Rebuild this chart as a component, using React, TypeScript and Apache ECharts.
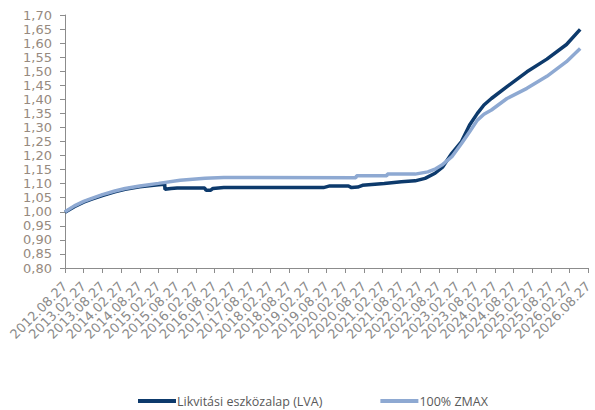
import React, { useEffect, useRef } from "react";
import * as echarts from "echarts";

// x positions are months since 2012.08.27
const xTickLabels = [
  "2012.08.27", "2013.02.27", "2013.08.27", "2014.02.27", "2014.08.27",
  "2015.02.27", "2015.08.27", "2016.02.27", "2016.08.27", "2017.02.27",
  "2017.08.27", "2018.02.27", "2018.08.27", "2019.02.27", "2019.08.27",
  "2020.02.27", "2020.08.27", "2021.02.27", "2021.08.27", "2022.02.27",
  "2022.08.27", "2023.02.27", "2023.08.27", "2024.02.27", "2024.08.27",
  "2025.02.27", "2025.08.27", "2026.02.27", "2026.08.27",
];

const lvaMonths = [
  0, 3, 6, 8.6, 12, 16, 19.3, 24, 30, 32, 32.1, 34, 36, 44.8, 45.3, 46.8, 47.5, 51,
  83, 85, 91, 92, 94, 95.5, 102.5, 108, 112.4, 115.6, 118.8, 121.3, 124.2, 127.3,
  129.9, 132.4, 134.5, 136.9, 141.9, 148.3, 154.7, 161, 165.4,
];
const lvaValues = [
  0.998, 1.018, 1.034, 1.045, 1.058, 1.071, 1.08, 1.089, 1.096, 1.098, 1.08, 1.083, 1.085,
  1.085, 1.077, 1.077, 1.083, 1.086, 1.086, 1.092, 1.092, 1.086, 1.088, 1.094, 1.101,
  1.107, 1.11, 1.119, 1.137, 1.16, 1.208, 1.25, 1.309, 1.35, 1.38, 1.403, 1.445, 1.498,
  1.543, 1.595, 1.649,
];

const zmaxMonths = [
  0, 3, 6, 8.6, 12, 16, 19.3, 24, 30, 37, 45, 51, 93.4, 93.6, 103.3, 103.5, 112.4,
  116.5, 119, 121, 124.2, 127.3, 129.9, 132.4, 134.5, 136.9, 141.9, 148.3, 154.7, 161,
  165.4,
];
const zmaxValues = [
  1.0, 1.021, 1.037, 1.048, 1.061, 1.074, 1.083, 1.092, 1.101, 1.112, 1.119, 1.122,
  1.121, 1.128, 1.128, 1.134, 1.134, 1.142, 1.153, 1.166, 1.196, 1.243, 1.285, 1.326,
  1.347, 1.362, 1.403, 1.439, 1.482, 1.534, 1.581,
];

const seriesNames = ["Likvitási eszközalap (LVA)", "100% ZMAX"];

export default function App() {
  const ref = useRef<HTMLDivElement>(null);
  useEffect(() => {
    if (!ref.current) return;
    const chart = echarts.init(ref.current, null, { renderer: "svg" });
    const axisFont = "'DejaVu Sans', sans-serif";
    const legendFont = "'Open Sans', 'Noto Sans', sans-serif";
    chart.setOption({
      animation: false,
      backgroundColor: "#ffffff",
      grid: { left: 65, top: 15, right: 0, bottom: 142, containLabel: false },
      legend: {
        data: seriesNames,
        left: 138,
        top: 394,
        padding: 0,
        itemWidth: 38,
        itemHeight: 4,
        itemGap: 58,
        icon: "rect",
        textStyle: {
          color: "#595959",
          fontSize: 12.5,
          lineHeight: 14,
          fontFamily: legendFont,
          padding: [0, 0, 0, -4],
        },
      },
      xAxis: {
        type: "value",
        min: 0,
        max: 168,
        interval: 6,
        axisLine: { show: true, lineStyle: { color: "#8c8c8c", width: 1 } },
        axisTick: { show: true, length: 5, lineStyle: { color: "#8c8c8c" } },
        splitLine: { show: false },
        axisLabel: {
          rotate: 45,
          margin: 16,
          color: "#8a8a8a",
          fontSize: 13,
          lineHeight: 12,
          fontFamily: axisFont,
          showMinLabel: true,
          showMaxLabel: true,
          formatter: (v: number) => xTickLabels[Math.round(v / 6)] ?? "",
        },
      },
      yAxis: {
        type: "value",
        min: 0.8,
        max: 1.7,
        interval: 0.05,
        axisLine: { show: true, lineStyle: { color: "#8c8c8c", width: 1 } },
        axisTick: { show: true, length: 5, lineStyle: { color: "#8c8c8c" } },
        splitLine: { show: false },
        axisLabel: {
          margin: 13,
          color: "#968a80",
          fontSize: 13,
          lineHeight: 13,
          fontFamily: axisFont,
          formatter: (v: number) => v.toFixed(2).replace(".", ","),
        },
      },
      series: [
        {
          name: seriesNames[0],
          type: "line",
          data: lvaMonths.map((m, i) => [m, lvaValues[i]]),
          showSymbol: false,
          symbol: "none",
          lineStyle: { color: "#0d3a6c", width: 3.5 },
          itemStyle: { color: "#0d3a6c" },
          z: 2,
        },
        {
          name: seriesNames[1],
          type: "line",
          data: zmaxMonths.map((m, i) => [m, zmaxValues[i]]),
          showSymbol: false,
          symbol: "none",
          lineStyle: { color: "#8ea9d2", width: 3.5 },
          itemStyle: { color: "#8ea9d2" },
          z: 3,
        },
      ],
    });
    return () => chart.dispose();
  }, []);
  return (
    <div
      ref={ref}
      style={{ position: "fixed", left: 0, top: 0, width: 595, height: 410, background: "#fff" }}
    />
  );
}
